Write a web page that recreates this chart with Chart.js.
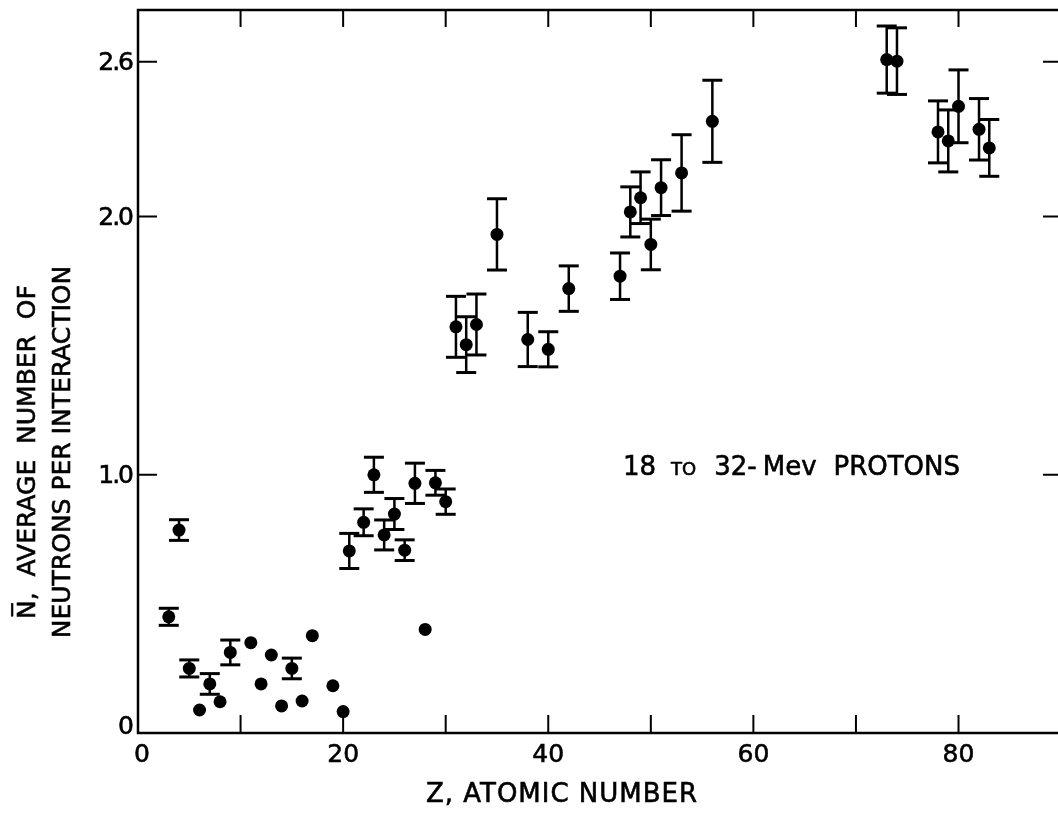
<!DOCTYPE html>
<html>
<head>
<meta charset="utf-8">
<script src="https://cdn.jsdelivr.net/npm/chart.js@4.4.1/dist/chart.umd.min.js"></script>
<style>
  html, body { margin: 0; padding: 0; background: #fff; overflow: hidden; }
  #wrap { position: relative; width: 1058px; height: 814px; }
</style>
</head>
<body>
<div id="wrap"><canvas id="chart"></canvas></div>
<script>
// atomic number of each target
const zValues = [
  3, 4, 5, 6, 7, 8, 9, 11, 12, 13, 14, 15, 16, 17, 19, 20,
  20.6, 22, 23, 24, 25, 26, 27, 28, 29, 30,
  31, 32, 33, 35, 38, 40, 42,
  47, 48, 49, 50, 51, 53, 56,
  73, 74, 78, 79, 80, 82, 83,
];

// average number of neutrons per interaction
const nValues = [
  0.45, 0.786, 0.25, 0.089, 0.19, 0.121, 0.312, 0.35, 0.19, 0.302, 0.105, 0.25, 0.124, 0.377, 0.183, 0.083,
  0.705, 0.816, 1.0, 0.767, 0.848, 0.708, 0.967, 0.401, 0.969, 0.896,
  1.573, 1.504, 1.582, 1.931, 1.524, 1.486, 1.721,
  1.769, 2.018, 2.073, 1.892, 2.112, 2.169, 2.369,
  2.608, 2.602, 2.328, 2.293, 2.427, 2.338, 2.266,
];

// half length of the error bar (0 = no bar drawn)
const nErrors = [
  0.033, 0.04, 0.033, 0, 0.04, 0, 0.048, 0, 0, 0, 0, 0.04, 0, 0, 0, 0,
  0.068, 0.052, 0.068, 0.058, 0.06, 0.04, 0.078, 0, 0.048, 0.049,
  0.118, 0.108, 0.118, 0.138, 0.105, 0.068, 0.088,
  0.09, 0.097, 0.1, 0.098, 0.108, 0.148, 0.159,
  0.13, 0.129, 0.12, 0.12, 0.141, 0.119, 0.11,
];

const xLabelValues = [0, 20, 40, 60, 80];
const yTickValues = [0, 1.0, 2.0, 2.6];

const font = "'DejaVu Sans', sans-serif";

const points = zValues.map((z, i) => ({ x: z, y: nValues[i] }));

const errorSegments = [];
zValues.forEach((z, i) => {
  if (nErrors[i] > 0) {
    errorSegments.push({ x: z, y: nValues[i] - nErrors[i] });
    errorSegments.push({ x: z, y: nValues[i] + nErrors[i] });
    errorSegments.push({ x: z, y: null });
  }
});

// filled text with a thin outline, to get the heavy lettering of the original
function inkText(ctx, text, x, y) {
  ctx.fillText(text, x, y);
  ctx.strokeText(text, x, y);
}

const framePlugin = {
  id: "frame",
  afterDatasetsDraw(chart) {
    const { ctx, chartArea, scales } = chart;
    const { left, right, top, bottom } = chartArea;
    ctx.save();
    ctx.strokeStyle = "#000";
    ctx.lineWidth = 2.5;
    ctx.beginPath();
    ctx.moveTo(right, top);
    ctx.lineTo(left, top);
    ctx.lineTo(left, bottom);
    ctx.lineTo(right, bottom);
    ctx.stroke();

    ctx.lineWidth = 2;
    ctx.beginPath();
    scales.x.ticks.forEach((t) => {
      if (t.value === 0) return;
      const px = scales.x.getPixelForValue(t.value);
      ctx.moveTo(px, bottom);
      ctx.lineTo(px, bottom - 18);
      ctx.moveTo(px, top);
      ctx.lineTo(px, top + 17);
    });
    scales.y.ticks.forEach((t) => {
      if (t.value === 0) return;
      const py = scales.y.getPixelForValue(t.value);
      ctx.moveTo(left, py);
      ctx.lineTo(left + 19, py);
      ctx.moveTo(right, py);
      ctx.lineTo(right - 15, py);
    });
    ctx.stroke();
    ctx.restore();
  },
  afterDraw(chart) {
    const { ctx, scales } = chart;
    ctx.save();
    ctx.fillStyle = "#000";
    ctx.strokeStyle = "#000";
    ctx.lineWidth = 0.6;

    // tick labels
    ctx.font = `25px ${font}`;
    ctx.textAlign = "center";
    ctx.textBaseline = "alphabetic";
    xLabelValues.forEach((v) => {
      inkText(ctx, String(v), scales.x.getPixelForValue(v) + (v === 0 ? 4 : 0), 762);
    });
    ctx.textAlign = "right";
    ctx.textBaseline = "middle";
    ctx.letterSpacing = "-2px";
    yTickValues.forEach((v) => {
      const py = scales.y.getPixelForValue(v);
      inkText(ctx, v === 0 ? "0" : v.toFixed(1), 132, v === 0 ? py - 6 : py + 2);
    });

    // x axis title
    ctx.font = `26px ${font}`;
    ctx.letterSpacing = "1px";
    ctx.textAlign = "center";
    ctx.textBaseline = "alphabetic";
    inkText(ctx, "Z, ATOMIC NUMBER", 562, 802);
    ctx.letterSpacing = "0px";

    // y axis title, two lines
    ctx.save();
    ctx.translate(0, 452);
    ctx.rotate(-Math.PI / 2);
    ctx.font = `25px ${font}`;
    ctx.textBaseline = "middle";
    inkText(ctx, "N\u0305,  AVERAGE  NUMBER  OF", 0, 28);
    inkText(ctx, "NEUTRONS PER INTERACTION", 0, 63);
    ctx.restore();

    // annotation, "TO" in small capitals
    ctx.textAlign = "left";
    ctx.textBaseline = "alphabetic";
    let x = 623;
    const base = 475;
    ctx.font = `26px ${font}`;
    inkText(ctx, "18", x, base);
    x += ctx.measureText("18").width + 15;
    ctx.font = `18px ${font}`;
    inkText(ctx, "TO", x, base);
    x += ctx.measureText("TO").width + 18;
    ctx.font = `26px ${font}`;
    inkText(ctx, "32-", x, base);
    x += ctx.measureText("32-").width + 6;
    inkText(ctx, "Mev", x, base);
    x += ctx.measureText("Mev").width + 17;
    inkText(ctx, "PROTONS", x, base);
    ctx.restore();
  },
};

new Chart(document.getElementById("chart"), {
  type: "scatter",
  data: {
    datasets: [
      {
        type: "line",
        label: "error",
        data: errorSegments,
        borderColor: "#000",
        borderWidth: 2.5,
        spanGaps: false,
        pointStyle: "line",
        pointRadius: 10,
        pointBorderWidth: 3,
        pointBorderColor: "#000",
        pointBackgroundColor: "#000",
        order: 2,
      },
      {
        label: "N",
        data: points,
        pointRadius: 6.5,
        pointBackgroundColor: "#000",
        pointBorderWidth: 0,
        order: 1,
      },
    ],
  },
  options: {
    responsive: true,
    maintainAspectRatio: false,
    animation: false,
    layout: { autoPadding: false, padding: { top: 10, right: 0, left: 0, bottom: 0 } },
    plugins: {
      legend: { display: false },
      tooltip: { enabled: false },
    },
    scales: {
      x: {
        type: "linear",
        min: 0,
        max: 89.7,
        grid: { display: false },
        border: { display: false },
        afterFit: (scale) => {
          scale.height = 81;
          scale.paddingLeft = 0;
          scale.paddingRight = 0;
        },
        ticks: {
          display: false,
          stepSize: 10,
          includeBounds: false,
          autoSkip: false,
          maxRotation: 0,
        },
      },
      y: {
        type: "linear",
        min: 0,
        max: 2.8,
        grid: { display: false },
        border: { display: false },
        afterBuildTicks: (scale) => {
          scale.ticks = yTickValues.map((v) => ({ value: v }));
        },
        afterFit: (scale) => {
          scale.width = 138;
          scale.paddingTop = 0;
          scale.paddingBottom = 0;
        },
        ticks: {
          display: false,
        },
      },
    },
  },
  plugins: [framePlugin],
});
</script>
</body>
</html>
